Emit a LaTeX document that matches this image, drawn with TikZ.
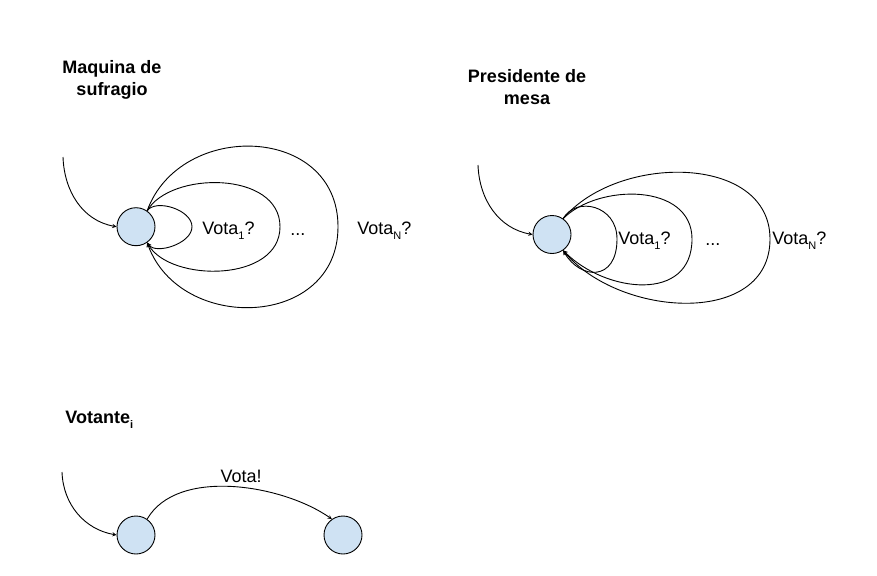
\documentclass[tikz,border=0pt]{standalone}
\usepackage{fontspec}
\setmainfont{Liberation Sans}
\definecolor{stfill}{HTML}{CFE2F3}
\newcommand{\lowsub}[1]{\raisebox{-0.3em}{\fontsize{11}{11}\selectfont #1}}
\begin{document}
\begin{tikzpicture}
[x=1pt,y=1pt,>=stealth,line width=0.9pt,
 state/.style = {draw, circle, fill = stfill, minimum size = 38pt, inner sep = 0pt},
 lbl/.style = {font = \fontsize{18}{22}\selectfont},
 ttl/.style = {font = \fontsize{18}{22}\selectfont\bfseries, inner sep = 0pt},]
\useasboundingbox (0,0) rectangle (877,-575);

% titles
\node [ttl, anchor=north, align=center] (tmaq) at (112,-60) {Maquina de\\sufragio};
\node [ttl, anchor=north, align=center] (tpres) at (527,-69) {Presidente de\\mesa};
\node [ttl, anchor=base west] (tvot) at (65,-423) {Votante\lowsub{i}};

% states
\node (ms) at (136,-226.7) [state] {};
\node (pm) at (552,-234.5) [state] {};
\node (v1) at (136,-535) [state] {};
\node (v2) at (343,-535) [state] {};

\coordinate (ims) at (63,-157);
\coordinate (ipm) at (478,-165);
\coordinate (iv) at (62,-472);

% maquina de sufragio
\draw[->] (ims) to[out=-88,in=170] (ms.west);
\draw[->] (ms.55) .. controls +(55:15) and +(0,17) .. (192,-226.7)
  .. controls +(0,-17) and +(-55:15) .. (ms.-55);
\draw[->] (ms.55) .. controls +(60:46) and +(0,56) .. (280,-226.7)
  .. controls +(0,-56) and +(-60:46) .. (ms.-55);
\draw[->] (ms.55) .. controls +(70:97) and +(0,102) .. (338,-226.7)
  .. controls +(0,-102) and +(-70:97) .. (ms.-55);
\node [lbl, anchor=base west, inner sep=0pt] (m1) at (202,-234) {Vota\lowsub{1}?};
\node [lbl, anchor=base west, inner sep=0pt] (md) at (290,-235) {...};
\node [lbl, anchor=base west, inner sep=0pt] (mn) at (357,-234) {Vota\lowsub{N}?};

% presidente de mesa
\draw[->] (ipm) to[out=-88,in=170] (pm.west);
\draw[->] (pm.55) .. controls +(60:26) and +(0,34) .. (617,-239)
  .. controls +(0,-43) and +(-60:34) .. (pm.-55);
\draw[->] (pm.55) .. controls +(45:50) and +(0,56) .. (692,-239)
  .. controls +(0,-64) and +(-45:60) .. (pm.-55);
\draw[->] (pm.55) .. controls +(50:85) and +(0,85) .. (770,-239)
  .. controls +(0,-88) and +(-50:88) .. (pm.-55);
\node [lbl, anchor=base west, inner sep=0pt] (p1) at (618,-244) {Vota\lowsub{1}?};
\node [lbl, anchor=base west, inner sep=0pt] (pd) at (705,-245) {...};
\node [lbl, anchor=base west, inner sep=0pt] (pn) at (772,-244) {Vota\lowsub{N}?};

% votante
\draw[->] (iv) to[out=-88,in=170] (v1.west);
\draw[->] (v1.55) to[out=60,in=145,distance=60pt] node[lbl, pos=0.54, above, inner sep=4pt] (vv) {Vota!} (v2.125);

\end{tikzpicture}
\end{document}
